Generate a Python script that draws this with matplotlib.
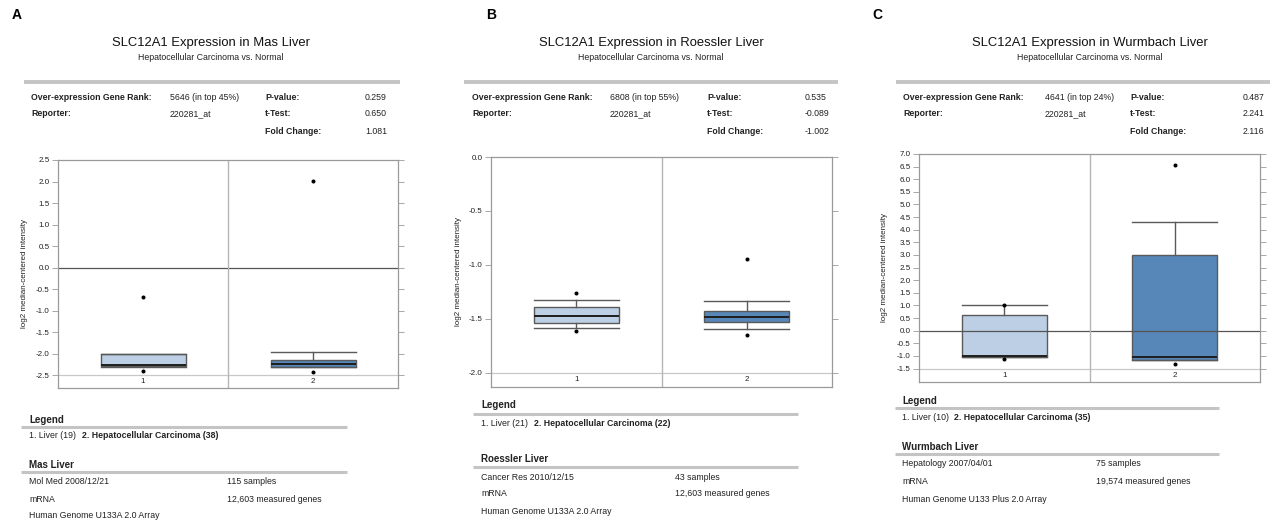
# SLC12A1 expression in three liver datasets (Oncomine style box plots)

import matplotlib
matplotlib.use("Agg")
import matplotlib.pyplot as plt
from matplotlib.lines import Line2D

W, H = 1270, 525

# ---- data ----
dataset_names = ["Mas Liver", "Roessler Liver", "Wurmbach Liver"]
gene_ranks = ["5646 (in top 45%)", "6808 (in top 55%)", "4641 (in top 24%)"]
reporter = "220281_at"
p_values = ["0.259", "0.535", "0.487"]
t_tests = ["0.650", "-0.089", "2.241"]
fold_changes = ["1.081", "-1.002", "2.116"]
liver_n = [19, 21, 10]
hcc_n = [38, 22, 35]
journals = ["Mol Med 2008/12/21", "Cancer Res 2010/12/15", "Hepatology 2007/04/01"]
sample_counts = ["115 samples", "43 samples", "75 samples"]
gene_counts = ["12,603 measured genes", "12,603 measured genes", "19,574 measured genes"]
platforms = ["Human Genome U133A 2.0 Array", "Human Genome U133A 2.0 Array",
             "Human Genome U133 Plus 2.0 Array"]

# box stats: (whislo, q1, med, q3, whishi, fliers) for Liver, HCC
mas_liver = (-2.31, -2.30, -2.27, -2.01, -2.01, [-0.68, -2.40])
mas_hcc = (-2.32, -2.32, -2.25, -2.16, -1.97, [2.02, -2.42])
roe_liver = (-1.58, -1.54, -1.47, -1.39, -1.32, [-1.26, -1.61])
roe_hcc = (-1.59, -1.53, -1.485, -1.43, -1.33, [-0.94, -1.65])
wur_liver = (-1.05, -1.05, -1.00, 0.63, 1.00, [1.00, -1.10])
wur_hcc = (-1.15, -1.15, -1.04, 3.00, 4.29, [6.58, -1.33])
box_stats = [[mas_liver, mas_hcc], [roe_liver, roe_hcc], [wur_liver, wur_hcc]]

y_ticks = [[-2.5, -2.0, -1.5, -1.0, -0.5, 0.0, 0.5, 1.0, 1.5, 2.0, 2.5],
           [-2.0, -1.5, -1.0, -0.5, 0.0],
           [-1.5, -1.0, -0.5, 0.0, 0.5, 1.0, 1.5, 2.0, 2.5, 3.0, 3.5, 4.0,
            4.5, 5.0, 5.5, 6.0, 6.5, 7.0]]
y_limits = [(-2.8, 2.5), (-2.13, 0.0), (-2.03, 7.0)]
group_labels = ["1", "2"]
panel_letters = ["A", "B", "C"]

# ---- layout (pixels) ----
axes_px = [(58, 398, 160, 388), (491, 832, 157, 387), (919, 1260, 154, 382)]
title_cx = [211, 651, 1090]
sep_lines = [(24, 400), (464, 838), (896, 1270)]
table_cols = [(31, 170, 265, 365), (472, 610, 707, 805), (903, 1045, 1130, 1243)]
letter_x = [12, 486, 872]
ylabel_x = [25, 458, 885]
# legend block: x, line x0, x1, bold x, right col x, y's
legend_px = [
    dict(x=29, lx0=21, lx1=347, bx=82, rx=227, ys=(420, 427, 436, 465, 472, 482, 499, 515)),
    dict(x=481, lx0=473, lx1=798, bx=534, rx=675, ys=(405, 414, 424, 459, 467, 477, 494, 511)),
    dict(x=902, lx0=895, lx1=1219, bx=954, rx=1096, ys=(401, 408, 418, 447, 454, 464, 482, 499)),
]

FONT = "Liberation Sans"
plt.rcParams["font.family"] = [FONT, "DejaVu Sans"]

fig = plt.figure(figsize=(W / 100, H / 100), dpi=100)


def fx(x):
    return x / W


def fy(y):
    return 1 - y / H


def ftext(x, y, s, **kw):
    kw.setdefault("va", "center")
    kw.setdefault("fontsize", 6.3)
    kw.setdefault("color", "#222222")
    fig.text(fx(x), fy(y), s, **kw)


def hline(x0, x1, y, lw=2.2, color="#c4c4c4"):
    fig.add_artist(Line2D([fx(x0), fx(x1)], [fy(y), fy(y)], transform=fig.transFigure,
                          color=color, lw=lw, solid_capstyle="butt"))


face_colors = ["#bccfe4", "#5787b8"]

for i in range(3):
    # panel letter, title, subtitle
    ftext(letter_x[i], 15, panel_letters[i], fontsize=10, fontweight="bold", color="black")
    ftext(title_cx[i], 43, "SLC12A1 Expression in " + dataset_names[i], ha="center",
          fontsize=9.4, color="#111111")
    ftext(title_cx[i], 57, "Hepatocellular Carcinoma vs. Normal", ha="center", fontsize=6.3)
    hline(sep_lines[i][0], sep_lines[i][1], 82, lw=2.8)

    c0, c1, c2, c3 = table_cols[i]
    ftext(c0, 97, "Over-expression Gene Rank:", fontweight="bold")
    ftext(c1, 97, gene_ranks[i])
    ftext(c2, 97, "P-value:", fontweight="bold")
    ftext(c3, 97, p_values[i])
    ftext(c0, 114, "Reporter:", fontweight="bold")
    ftext(c1, 114, reporter)
    ftext(c2, 114, "t-Test:", fontweight="bold")
    ftext(c3, 114, t_tests[i])
    ftext(c2, 131, "Fold Change:", fontweight="bold")
    ftext(c3, 131, fold_changes[i])

    # box plot
    l, r, t, b = axes_px[i]
    ax = fig.add_axes([fx(l), fy(b), fx(r - l), (b - t) / H])
    stats = []
    for lo, q1, med, q3, hi, fl in box_stats[i]:
        stats.append(dict(whislo=lo, q1=q1, med=med, q3=q3, whishi=hi, fliers=fl))
    bp = ax.bxp(stats, positions=[1, 2], widths=0.5, patch_artist=True,
                boxprops=dict(edgecolor="#5a5a5a", linewidth=1.0),
                medianprops=dict(color="#1e1e1e", linewidth=1.4),
                whiskerprops=dict(color="#5a5a5a", linewidth=1.0),
                capprops=dict(color="#5a5a5a", linewidth=1.0),
                flierprops=dict(marker="o", markersize=1.9, markerfacecolor="black",
                                markeredgecolor="black"), capwidths=0.5)
    for patch, fc in zip(bp["boxes"], face_colors):
        patch.set_facecolor(fc)

    ax.set_xlim(0.5, 2.5)
    ax.set_ylim(*y_limits[i])
    ax.set_yticks(y_ticks[i])
    ax.set_yticklabels(["%.1f" % v for v in y_ticks[i]])
    ax.set_xticks([])
    ax.tick_params(axis="y", which="both", right=True, labelright=False, length=4,
                   width=0.6, color="#999999", labelsize=5.8, labelcolor="#222222", pad=2)
    for sp in ax.spines.values():
        sp.set_color("#9a9a9a")
        sp.set_linewidth(0.9)

    base = y_ticks[i][0]
    ax.axhline(base, color="#c8c8c8", lw=0.9)
    if y_limits[i][0] < 0 < y_limits[i][1]:
        ax.axhline(0, color="#555555", lw=0.9)
    ax.axvline(1.5, color="#b5b5b5", lw=1.0)
    for k, lab in enumerate(group_labels):
        ax.text(k + 1, (base + y_limits[i][0]) / 2, lab, ha="center", va="center",
                fontsize=5.8, color="#222222")
    fig.text(fx(ylabel_x[i]), fy((t + b) / 2), "log2 median-centered intensity",
             rotation=90, ha="center", va="center", fontsize=5.8, color="#222222")

    # legend and dataset block
    lg = legend_px[i]
    y0, y1, y2, y3, y4, y5, y6, y7 = lg["ys"]
    ftext(lg["x"], y0, "Legend", fontsize=7, fontweight="bold")
    hline(lg["lx0"], lg["lx1"], y1)
    ftext(lg["x"], y2, "1. Liver (%d)" % liver_n[i])
    ftext(lg["bx"], y2, "2. Hepatocellular Carcinoma (%d)" % hcc_n[i], fontweight="bold")
    ftext(lg["x"], y3, dataset_names[i], fontsize=7, fontweight="bold")
    hline(lg["lx0"], lg["lx1"], y4)
    ftext(lg["x"], y5, journals[i])
    ftext(lg["rx"], y5, sample_counts[i])
    ftext(lg["x"], y6, "mRNA")
    ftext(lg["rx"], y6, gene_counts[i])
    ftext(lg["x"], y7, platforms[i])

fig.savefig("out.png", dpi=100)
